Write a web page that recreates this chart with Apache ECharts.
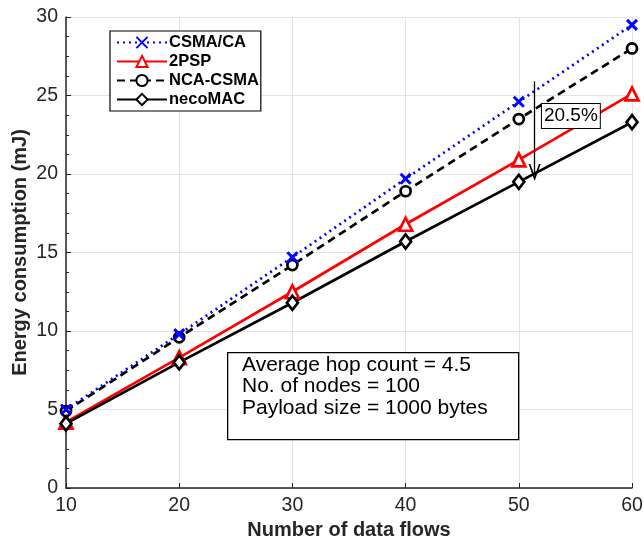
<!DOCTYPE html>
<html><head><meta charset="utf-8">
<script src="https://cdn.jsdelivr.net/npm/echarts@6/dist/echarts.min.js"></script>
<style>html,body{margin:0;padding:0;background:#fff}#c{width:644px;height:542px}</style>
</head><body><div id="c"></div>
<script>
const flows = [10, 20, 30, 40, 50, 60];
const csmaCA = [5.0, 9.8, 14.7, 19.7, 24.6, 29.5];
const pps2 = [4.2, 8.3, 12.5, 16.8, 20.9, 25.1];
const ncaCSMA = [4.9, 9.6, 14.2, 18.9, 23.5, 28.0];
const necoMAC = [4.1, 8.0, 11.8, 15.7, 19.5, 23.3];
const seriesNames = ['CSMA/CA', '2PSP', 'NCA-CSMA', 'necoMAC'];
const annotationText = '20.5%';
const infoLines = ['Average hop count = 4.5', 'No. of nodes = 100', 'Payload size = 1000 bytes'];

const pair = v => flows.map((x, i) => [x, v[i]]);
const FONT = '"Liberation Sans", Arial, Helvetica, sans-serif';
const chart = echarts.init(document.getElementById('c'));
const xPath = 'path://M0,0L10,10M10,0L0,10';
const vArrow = 'path://M5,0L10,10L8.6,10L5,3L1.4,10L0,10Z';
chart.setOption({
  animation: false,
  backgroundColor: '#fff',
  grid: { left: 66, right: 12, top: 17, bottom: 54, outerBoundsMode: 'none', containLabel: false },
  xAxis: {
    type: 'value', min: 10, max: 60, interval: 10,
    name: 'Number of data flows', nameLocation: 'middle', nameGap: 31,
    nameTextStyle: { fontFamily: FONT, fontSize: 20, fontWeight: 'bold', color: '#262626' },
    axisLine: { lineStyle: { color: '#262626', width: 1.5 } },
    axisTick: { inside: true, length: 5, lineStyle: { color: '#262626' } },
    axisLabel: { fontFamily: FONT, fontSize: 19.5, color: '#262626', margin: 8 },
    splitLine: { show: true, lineStyle: { color: '#e3e3e3', width: 1 } }
  },
  yAxis: {
    type: 'value', min: 0, max: 30, interval: 5,
    name: 'Energy consumption (mJ)', nameLocation: 'middle', nameGap: 36,
    nameMoveOverlap: false,
    nameTextStyle: { fontFamily: FONT, fontSize: 20, fontWeight: 'bold', color: '#262626' },
    axisLine: { show: true, lineStyle: { color: '#262626', width: 1.5 } },
    axisTick: { show: true, inside: true, length: 5, lineStyle: { color: '#262626' } },
    minorTick: { show: true, splitNumber: 4, length: 3, lineStyle: { color: '#262626' } },
    axisLabel: { fontFamily: FONT, fontSize: 19.5, color: '#262626', margin: 8 },
    splitLine: { show: true, lineStyle: { color: '#e3e3e3', width: 1 } }
  },
  legend: {
    orient: 'vertical', left: 110, top: 31,
    data: seriesNames,
    backgroundColor: '#fff', borderColor: '#000', borderWidth: 1.2,
    padding: [3, 2, 3, 6], itemGap: 2, itemWidth: 50, itemHeight: 14,
    textStyle: { fontFamily: FONT, fontSize: 16.5, fontWeight: 'bold', color: '#000', padding: [0, 0, 0, -3] }
  },
  series: [
    {
      name: seriesNames[0], type: 'line', data: pair(csmaCA),
      symbol: xPath, symbolSize: 10,
      lineStyle: { color: '#0000ff', width: 2.7, type: [2, 4] },
      itemStyle: { color: '#0000ff', borderColor: '#0000ff', borderWidth: 3 },
      z: 4
    },
    {
      name: seriesNames[1], type: 'line', data: pair(pps2),
      symbol: 'triangle', symbolSize: 13,
      lineStyle: { color: '#ff0000', width: 2.7 },
      itemStyle: { color: '#fff', borderColor: '#ff0000', borderWidth: 2.7 },
      z: 3
    },
    {
      name: seriesNames[2], type: 'line', data: pair(ncaCSMA),
      symbol: 'circle', symbolSize: 10,
      lineStyle: { color: '#000', width: 2.7, type: [8, 5] },
      itemStyle: { color: '#fff', borderColor: '#000', borderWidth: 2.7 },
      z: 3
    },
    {
      name: seriesNames[3], type: 'line', data: pair(necoMAC),
      symbol: 'diamond', symbolSize: [11, 14],
      lineStyle: { color: '#000', width: 2.7 },
      itemStyle: { color: '#fff', borderColor: '#000', borderWidth: 2.7 },
      z: 3,
      markLine: {
        silent: true, animation: false,
        symbol: ['none', vArrow], symbolSize: [12, 17],
        lineStyle: { color: '#000', width: 1.3, type: 'solid' },
        label: { show: false },
        data: [[{ coord: [51.4, 25.9] }, { coord: [51.4, 20.1] }]]
      },
      markPoint: {
        silent: true, symbol: 'rect', symbolSize: 1,
        itemStyle: { color: 'rgba(0,0,0,0)' },
        label: {
          show: true, position: 'inside', formatter: annotationText,
          fontFamily: FONT, fontSize: 19, color: '#000',
          backgroundColor: '#fff', borderColor: '#000', borderWidth: 1,
          padding: [3, 2, 2, 2]
        },
        data: [{ coord: [54.6, 23.7] }]
      }
    }
  ],
  graphic: [
    {
      type: 'rect', left: 227, top: 352, z: 10,
      shape: { width: 291, height: 87 },
      style: { fill: '#fff', stroke: '#000', lineWidth: 1.3 }
    },
    {
      type: 'text', left: 242, top: 354, z: 11,
      style: {
        text: infoLines.join('\n'), fontFamily: FONT, fontSize: 21,
        lineHeight: 21.5, fill: '#000'
      }
    }
  ]
});
</script></body></html>
